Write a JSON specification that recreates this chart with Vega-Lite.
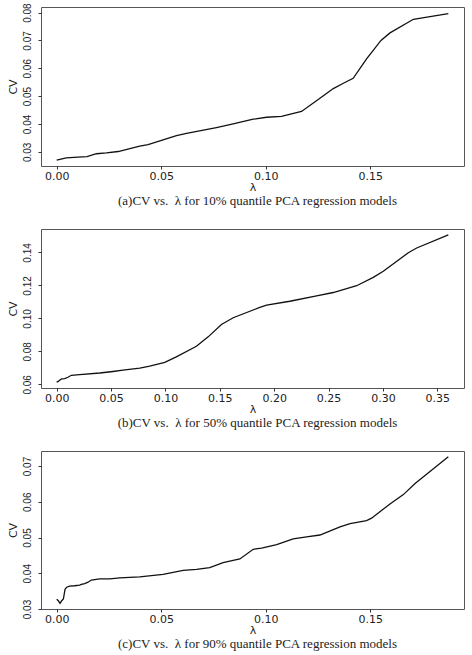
{
  "$schema": "https://vega.github.io/schema/vega-lite/v6.json",
  "padding": {"top": 2, "left": 6, "right": 4, "bottom": 2},
  "background": "white",
  "bounds": "flush",
  "spacing": 63,
  "datasets": {
    "q10": [
      {"lambda": 0.0, "cv": 0.0270},
      {"lambda": 0.0046, "cv": 0.0278},
      {"lambda": 0.0102, "cv": 0.0281},
      {"lambda": 0.0145, "cv": 0.0283},
      {"lambda": 0.0190, "cv": 0.0293},
      {"lambda": 0.0238, "cv": 0.0296},
      {"lambda": 0.0294, "cv": 0.0301},
      {"lambda": 0.0397, "cv": 0.0320},
      {"lambda": 0.0437, "cv": 0.0326},
      {"lambda": 0.0501, "cv": 0.0341},
      {"lambda": 0.0573, "cv": 0.0358},
      {"lambda": 0.0621, "cv": 0.0366},
      {"lambda": 0.0764, "cv": 0.0387},
      {"lambda": 0.0844, "cv": 0.0400},
      {"lambda": 0.0940, "cv": 0.0417},
      {"lambda": 0.1004, "cv": 0.0424},
      {"lambda": 0.1075, "cv": 0.0427},
      {"lambda": 0.1171, "cv": 0.0445},
      {"lambda": 0.1259, "cv": 0.0492},
      {"lambda": 0.1323, "cv": 0.0527},
      {"lambda": 0.1371, "cv": 0.0546},
      {"lambda": 0.1418, "cv": 0.0564},
      {"lambda": 0.1482, "cv": 0.0634},
      {"lambda": 0.1551, "cv": 0.0700},
      {"lambda": 0.1594, "cv": 0.0727},
      {"lambda": 0.1706, "cv": 0.0776},
      {"lambda": 0.1873, "cv": 0.0796}
    ],
    "q50": [
      {"lambda": 0.0, "cv": 0.0614},
      {"lambda": 0.0015, "cv": 0.0618},
      {"lambda": 0.0030, "cv": 0.0627},
      {"lambda": 0.0046, "cv": 0.0633},
      {"lambda": 0.0074, "cv": 0.0635},
      {"lambda": 0.0104, "cv": 0.0643},
      {"lambda": 0.0135, "cv": 0.0655},
      {"lambda": 0.0212, "cv": 0.0659},
      {"lambda": 0.0396, "cv": 0.0669},
      {"lambda": 0.0518, "cv": 0.0678},
      {"lambda": 0.0610, "cv": 0.0686},
      {"lambda": 0.0764, "cv": 0.0698},
      {"lambda": 0.0856, "cv": 0.0710},
      {"lambda": 0.0994, "cv": 0.0733},
      {"lambda": 0.1100, "cv": 0.0767},
      {"lambda": 0.1285, "cv": 0.0831},
      {"lambda": 0.1393, "cv": 0.0888},
      {"lambda": 0.1515, "cv": 0.0963},
      {"lambda": 0.1623, "cv": 0.1004},
      {"lambda": 0.1868, "cv": 0.1067},
      {"lambda": 0.1930, "cv": 0.1080},
      {"lambda": 0.2144, "cv": 0.1104},
      {"lambda": 0.2390, "cv": 0.1137},
      {"lambda": 0.2543, "cv": 0.1157},
      {"lambda": 0.2758, "cv": 0.1198},
      {"lambda": 0.2911, "cv": 0.1249},
      {"lambda": 0.3003, "cv": 0.1286},
      {"lambda": 0.3233, "cv": 0.1398},
      {"lambda": 0.3310, "cv": 0.1427},
      {"lambda": 0.3601, "cv": 0.1506}
    ],
    "q90": [
      {"lambda": 0.0, "cv": 0.0327},
      {"lambda": 0.0008, "cv": 0.0323},
      {"lambda": 0.0016, "cv": 0.0316},
      {"lambda": 0.0024, "cv": 0.0323},
      {"lambda": 0.0032, "cv": 0.0328},
      {"lambda": 0.0040, "cv": 0.0355},
      {"lambda": 0.0048, "cv": 0.0361},
      {"lambda": 0.0062, "cv": 0.0364},
      {"lambda": 0.0086, "cv": 0.0365},
      {"lambda": 0.0110, "cv": 0.0367},
      {"lambda": 0.0118, "cv": 0.0369},
      {"lambda": 0.0134, "cv": 0.0371},
      {"lambda": 0.0150, "cv": 0.0375},
      {"lambda": 0.0166, "cv": 0.0381},
      {"lambda": 0.0206, "cv": 0.0384},
      {"lambda": 0.0254, "cv": 0.0384},
      {"lambda": 0.0302, "cv": 0.0387},
      {"lambda": 0.0397, "cv": 0.0390},
      {"lambda": 0.0509, "cv": 0.0397},
      {"lambda": 0.0605, "cv": 0.0408},
      {"lambda": 0.0669, "cv": 0.0411},
      {"lambda": 0.0732, "cv": 0.0416},
      {"lambda": 0.0796, "cv": 0.0430},
      {"lambda": 0.0876, "cv": 0.0440},
      {"lambda": 0.0940, "cv": 0.0467},
      {"lambda": 0.0980, "cv": 0.0470},
      {"lambda": 0.1052, "cv": 0.0480},
      {"lambda": 0.1131, "cv": 0.0496},
      {"lambda": 0.1195, "cv": 0.0502},
      {"lambda": 0.1259, "cv": 0.0507},
      {"lambda": 0.1355, "cv": 0.0530},
      {"lambda": 0.1403, "cv": 0.0539},
      {"lambda": 0.1482, "cv": 0.0547},
      {"lambda": 0.1506, "cv": 0.0554},
      {"lambda": 0.1594, "cv": 0.0594},
      {"lambda": 0.1658, "cv": 0.0620},
      {"lambda": 0.1714, "cv": 0.0651},
      {"lambda": 0.1873, "cv": 0.0726}
    ]
  },
  "vconcat": [
    {
      "width": 423,
      "height": 159,
      "data": {"name": "q10"},
      "title": {"text": "(a)CV vs.\u00a0 λ for 10% quantile PCA regression models"},
      "mark": {"type": "line", "color": "#111111", "strokeWidth": 1.3},
      "encoding": {
        "x": {
          "field": "lambda", "type": "quantitative", "title": "λ",
          "scale": {"domain": [-0.0075, 0.1948], "nice": false, "zero": false},
          "axis": {"values": [0, 0.05, 0.1, 0.15], "format": ".2f"}
        },
        "y": {
          "field": "cv", "type": "quantitative", "title": "CV",
          "scale": {"domain": [0.0249, 0.0820], "nice": false, "zero": false},
          "axis": {"values": [0.03, 0.04, 0.05, 0.06, 0.07, 0.08], "format": ".2f"}
        }
      }
    },
    {
      "width": 423,
      "height": 159,
      "data": {"name": "q50"},
      "title": {"text": "(b)CV vs.\u00a0 λ for 50% quantile PCA regression models"},
      "mark": {"type": "line", "color": "#111111", "strokeWidth": 1.3},
      "encoding": {
        "x": {
          "field": "lambda", "type": "quantitative", "title": "λ",
          "scale": {"domain": [-0.0144, 0.3745], "nice": false, "zero": false},
          "axis": {"values": [0, 0.05, 0.1, 0.15, 0.2, 0.25, 0.3, 0.35], "format": ".2f"}
        },
        "y": {
          "field": "cv", "type": "quantitative", "title": "CV",
          "scale": {"domain": [0.0578, 0.1542], "nice": false, "zero": false},
          "axis": {"values": [0.06, 0.08, 0.10, 0.12, 0.14], "format": ".2f"}
        }
      }
    },
    {
      "width": 423,
      "height": 158,
      "data": {"name": "q90"},
      "title": {"text": "(c)CV vs.\u00a0 λ for 90% quantile PCA regression models"},
      "mark": {"type": "line", "color": "#111111", "strokeWidth": 1.3},
      "encoding": {
        "x": {
          "field": "lambda", "type": "quantitative", "title": "λ",
          "scale": {"domain": [-0.0075, 0.1948], "nice": false, "zero": false},
          "axis": {"values": [0, 0.05, 0.1, 0.15], "format": ".2f"}
        },
        "y": {
          "field": "cv", "type": "quantitative", "title": "CV",
          "scale": {"domain": [0.0300, 0.0742], "nice": false, "zero": false},
          "axis": {"values": [0.03, 0.04, 0.05, 0.06, 0.07], "format": ".2f"}
        }
      }
    }
  ],
  "config": {
    "view": {"stroke": "#555555", "strokeWidth": 1},
    "title": {
      "orient": "bottom", "anchor": "middle", "font": "Liberation Serif",
      "fontSize": 13, "fontWeight": "normal", "color": "#222222", "offset": 3, "dx": 5
    },
    "axis": {
      "grid": false, "domain": false, "tickSize": 3, "tickColor": "#333333",
      "labelFont": "Liberation Sans", "labelColor": "#222222",
      "titleFont": "DejaVu Sans", "titleFontWeight": "normal", "titleColor": "#222222",
      "labelFlush": false, "labelOverlap": false
    },
    "axisX": {
      "labelFont": "DejaVu Sans", "labelFontSize": 11, "labelPadding": 1, "titleFontSize": 11, "titlePadding": 0
    },
    "axisY": {
      "labelFontSize": 10, "labelAngle": -90, "labelAlign": "center", "labelBaseline": "bottom",
      "labelPadding": 6, "titleFontSize": 11, "titlePadding": 4
    }
  }
}
